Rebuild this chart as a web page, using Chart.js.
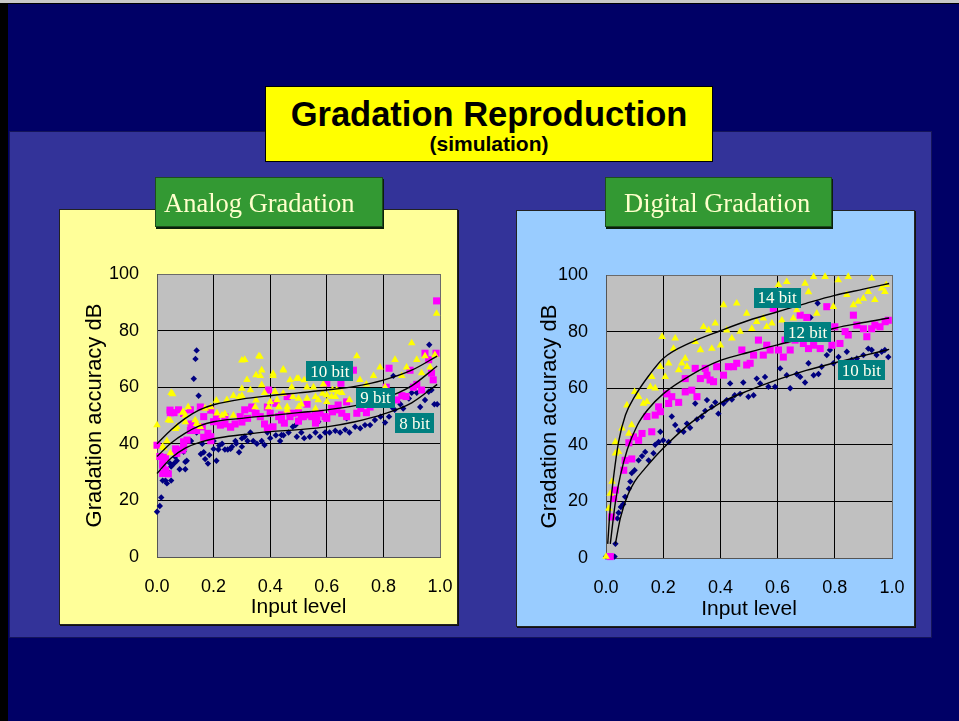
<!DOCTYPE html>
<html><head><meta charset="utf-8">
<script src="https://cdn.jsdelivr.net/npm/chart.js@4/dist/chart.umd.min.js"></script>
<style>
html,body{margin:0;padding:0;}
body{width:959px;height:721px;overflow:hidden;position:relative;background:#000;font-family:'Liberation Sans',Arial,sans-serif;}
.abs{position:absolute;box-sizing:border-box;}
#topline{left:0;top:0;width:959px;height:3px;background:#c8c8c8;}
#navy{left:8px;top:4px;width:951px;height:717px;background:#000066;}
#band{left:9px;top:131px;width:923px;height:507px;background:#333399;border:1px solid #15155a;}
#title{left:265px;top:86px;width:448px;height:76px;background:#ffff00;border:1px solid #000;text-align:center;z-index:3;}
#t1{left:0;width:100%;top:10px;font-size:34.5px;line-height:34.5px;font-weight:bold;color:#000;}
#t2{left:0;width:100%;top:46px;font-size:21px;line-height:21px;font-weight:bold;color:#000;}
.panel{border:1px solid #222;box-shadow:1px 1px 0 #111;}
#pA{left:59px;top:209px;width:399px;height:416px;background:#ffff99;}
#pD{left:516px;top:210px;width:399px;height:417px;background:#99ccff;}
.green{height:50px;background:#339933;border:1px solid #1d4d1d;box-shadow:1px 2px 0 #0a200a;z-index:3;
  font-family:'Liberation Serif','Times New Roman',serif;font-size:26.5px;line-height:26.5px;color:#ffffcc;white-space:nowrap;}
.green span{position:absolute;top:12px;}
#gA{left:155px;top:177px;width:228px;}
#gD{left:605px;top:177px;width:227px;}
canvas{position:absolute;z-index:2;}
#c1{left:59px;top:209px;}
#c2{left:516px;top:210px;}
</style></head>
<body>
<div class="abs" id="topline"></div>
<div class="abs" id="navy"></div>
<div class="abs" id="band"></div>
<div class="abs" id="title"><div class="abs" id="t1">Gradation Reproduction</div><div class="abs" id="t2">(simulation)</div></div>
<div class="abs panel" id="pA"></div>
<div class="abs panel" id="pD"></div>
<div class="abs green" id="gA"><span style="left:8px">Analog Gradation</span></div>
<div class="abs green" id="gD"><span style="left:18px">Digital Gradation</span></div>
<canvas id="c1" width="398" height="415"></canvas>
<canvas id="c2" width="398" height="416"></canvas>
<script>
// ---------- tick labels ----------
const xTickLabels = ['0.0','0.2','0.4','0.6','0.8','1.0'];
const yTickLabels = ['0','20','40','60','80','100'];

// ---------- Analog gradation: scatter points [input, dB] ----------
const analog8bit = [[0,16],[0.01,18],[0.015,21],[0.02,27],[0.03,27],[0.035,26],[0.05,27],[0.04,30],[0.05,32],[0.06,33],[0.07,34],[0.08,31],[0.10,31],[0.105,34],[0.12,41],[0.13,63],[0.136,70],[0.14,73],[0.147,57],[0.14,44],[0.16,40],[0.165,37],[0.18,33],[0.185,36],[0.2,41],[0.21,34],[0.217,38],[0.23,40],[0.24,38],[0.25,38],[0.265,39],[0.277,41],[0.29,37],[0.3,39],[0.31,42.5],[0.32,41],[0.33,44],[0.34,41],[0.353,40],[0.37,41],[0.38,39.6],[0.39,44],[0.4,42],[0.42,43],[0.435,41],[0.44,43.1],[0.447,43],[0.465,44],[0.48,46],[0.49,46.6],[0.494,42.5],[0.51,44],[0.52,42],[0.54,42.5],[0.56,44],[0.57,47.8],[0.576,42.5],[0.594,44],[0.61,44],[0.63,44.6],[0.647,44],[0.665,45],[0.67,49],[0.68,44],[0.7,46],[0.718,45.5],[0.735,46.6],[0.753,46.6],[0.77,48.4],[0.79,49.6],[0.806,47.5],[0.82,49.6],[0.83,53],[0.835,64],[0.84,52],[0.86,54],[0.87,52.5],[0.89,56],[0.9,58],[0.9,60],[0.918,58],[0.93,53],[0.947,55.5],[0.96,58.4],[0.962,75],[0.97,59],[0.98,54],[0.99,54],
  [0.046,33.1],[0.064,35.4],[0.094,37.2],[0.1,33.6],[0.117,41.2],[0.155,36.4],[0.17,34.6],[0.2,38.2],[0.22,39.4],[0.26,38.2],[0.28,40.1],[0.30,41.9]];
const analog9bit = [[0,39.5],[0.01,35.5],[0.02,29.5],[0.03,30.7],[0.02,33],[0.047,51],[0.06,51],[0.076,52],[0.07,36.6],[0.09,37.8],[0.094,40.7],[0.106,41.3],[0.118,52],[0.12,47],[0.153,53],[0.16,46],[0.165,49.6],[0.18,43.7],[0.19,42.5],[0.2,47.8],[0.21,49.6],[0.224,46.6],[0.24,47],[0.26,46],[0.276,47],[0.294,49.6],[0.31,52],[0.32,49],[0.335,53],[0.347,50.8],[0.365,49.6],[0.38,47],[0.394,59],[0.4,50.8],[0.41,46],[0.43,49.6],[0.44,48.4],[0.46,56.7],[0.47,49.6],[0.48,50.8],[0.5,51],[0.517,49.6],[0.53,54],[0.547,49.6],[0.565,48.4],[0.576,50.8],[0.594,49.6],[0.617,52.5],[0.635,52],[0.653,50.8],[0.67,49.6],[0.694,66],[0.706,50.8],[0.72,52.5],[0.74,51],[0.753,53],[0.8,56.7],[0.81,60],[0.82,66.7],[0.847,55.5],[0.865,57],[0.88,56.7],[0.894,66],[0.906,60],[0.918,61],[0.935,59],[0.947,72],[0.96,69.7],[0.97,65],[0.976,62.6],[0.986,72],[0.988,90.5],
  [0.335,52.5],[0.35,50.7],[0.39,53],[0.42,54.3],[0.44,50.2],[0.47,50.7],[0.51,49.6],[0.53,50.2],[0.56,50.7],[0.6,49],[0.62,51.3],[0.64,53.7],[0.67,54.8],[0.6,61.4],[0.65,61.4],[0.39,45.6],[0.45,47.3],[0.5,48],[0.56,47.3],
  [0.046,51.9],[0.094,50.7],[0.19,51.9],[0.24,49.5],[0.26,45.9],[0.3,47.7],[0.118,44.7],[0.14,44.7],[0.165,42.3],[0.19,41.1],[0.03,35.2],[0.066,38.2],[0.094,38.8],[0.02,32.4],[0.04,29.4]];
const analog10bit = [[0,46.6],[0.02,39],[0.035,41],[0.04,48.4],[0.05,58],[0.07,46],[0.09,51],[0.1,50],[0.11,53],[0.135,48.4],[0.153,46],[0.17,52.5],[0.19,53],[0.212,50.8],[0.23,50],[0.247,55.5],[0.27,57],[0.3,57],[0.31,69.7],[0.318,62.6],[0.33,59],[0.347,53],[0.36,71],[0.365,64],[0.38,58],[0.394,53],[0.41,64],[0.424,55.5],[0.447,66],[0.46,53],[0.476,60],[0.494,63],[0.51,54],[0.53,60],[0.553,60],[0.57,55.5],[0.588,61],[0.617,56.7],[0.635,59],[0.653,58],[0.68,55.5],[0.706,71],[0.717,62.6],[0.74,61],[0.765,64],[0.788,67],[0.806,60],[0.841,69.7],[0.865,64],[0.882,67],[0.9,75.6],[0.918,69.7],[0.935,65],[0.947,71],[0.965,67],[0.982,71.4],[0.988,86],
  [0.364,70.8],[0.37,66],[0.35,64.3],[0.41,64.8],[0.446,66.3],[0.47,62.5],[0.5,63],[0.52,62.5],[0.37,60.8],[0.417,58.4],[0.446,57.8],[0.48,56.6],[0.5,56],[0.53,56],[0.56,56.6],[0.585,57.8],[0.6,57.2],[0.62,59],[0.64,58.4],[0.35,55.4],[0.40,54.8],[0.43,53],[0.46,51.8],[0.5,53],[0.56,52.4],[0.6,54.8],[0.63,56.6],
  [0.055,57.6],[0.047,48.2],[0.065,45.3],[0.094,51.2],[0.1,47.7],[0.14,47.1],[0.21,55.3],[0.24,50.6],[0.27,50],[0.29,56.5],[0.3,59.5],[0.3,69.5],[0.047,36.7],[0.024,38.5]];
// fitted curves
const analogFit8 = [[0,29.5],[0.05,35],[0.1,38.5],[0.15,40.5],[0.2,41.8],[0.3,43.2],[0.4,44.3],[0.5,45],[0.6,46],[0.7,47.8],[0.8,50.5],[0.9,54.5],[0.99,61]];
const analogFit9 = [[0,35.5],[0.05,40.3],[0.1,43.8],[0.15,46.3],[0.2,47.8],[0.3,49],[0.4,50],[0.5,51],[0.6,52],[0.7,53.5],[0.8,56],[0.9,60.5],[0.99,67.5]];
const analogFit10 = [[0,40],[0.05,45],[0.1,49],[0.15,52],[0.2,53.8],[0.3,55.8],[0.4,57],[0.5,58],[0.6,59],[0.7,60.3],[0.8,62.5],[0.9,66],[0.99,71]];
const analogLabels = [['10 bit',0.611,65.7],['9 bit',0.772,56.2],['8 bit',0.91,47.3]];

// ---------- Digital gradation ----------
const digital10bit = [[0,0.5],[0.03,0.5],[0.033,5],[0.04,14],[0.044,16],[0.052,18],[0.06,19],[0.067,21.6],[0.08,24.5],[0.085,27],[0.09,30],[0.1,31],[0.114,34.5],[0.126,36],[0.137,37.5],[0.149,34.5],[0.166,37],[0.172,40],[0.184,41],[0.19,44.6],[0.2,41.6],[0.219,41],[0.23,50],[0.242,47],[0.254,45],[0.271,44.6],[0.283,47.5],[0.294,46],[0.312,54.6],[0.318,49],[0.335,50],[0.347,52],[0.353,55.8],[0.37,53.4],[0.382,55],[0.393,51],[0.411,54.6],[0.422,55.8],[0.434,61.7],[0.44,56],[0.45,57.5],[0.469,58],[0.48,62],[0.498,57],[0.516,57.5],[0.527,63.4],[0.539,61.7],[0.556,64],[0.568,60.5],[0.591,60.5],[0.609,67],[0.632,64.6],[0.644,60],[0.667,65],[0.679,64],[0.696,62],[0.708,68.8],[0.715,85],[0.726,64.6],[0.74,90],[0.743,65],[0.754,67.6],[0.772,71.7],[0.783,73.5],[0.795,68.8],[0.813,71],[0.842,72.9],[0.859,70],[0.877,70.5],[0.9,71.7],[0.917,74],[0.929,73.5],[0.946,71.7],[0.964,72.9],[0.975,73.5],[0.987,71]];
const digital12bit = [[0.015,0.5],[0.02,14.5],[0.027,21],[0.033,24],[0.062,31],[0.067,34.5],[0.09,35],[0.08,40.7],[0.096,42.8],[0.114,41.6],[0.126,44],[0.143,50],[0.16,44.6],[0.172,50.5],[0.184,53.4],[0.19,51.7],[0.213,58],[0.219,54.6],[0.23,57],[0.254,55],[0.277,58.7],[0.277,63.4],[0.3,59.3],[0.312,67],[0.318,57],[0.33,63.4],[0.347,67],[0.353,64.6],[0.364,62.9],[0.376,62.3],[0.387,67.6],[0.411,64.6],[0.428,67.6],[0.446,67.6],[0.457,68.8],[0.475,73.5],[0.492,68.2],[0.504,68.8],[0.516,71.7],[0.533,77],[0.55,71.7],[0.562,75.2],[0.574,73.5],[0.585,88.2],[0.603,73.5],[0.62,71],[0.626,77],[0.644,73.5],[0.661,77],[0.679,85.8],[0.69,75.8],[0.702,85],[0.708,74],[0.726,75.2],[0.749,74],[0.772,88.8],[0.79,75.2],[0.8,81.7],[0.818,75.8],[0.836,80],[0.847,78.8],[0.865,85.8],[0.877,82.3],[0.9,81],[0.912,78.2],[0.929,81],[0.94,82.3],[0.958,81.7],[0.976,83.5],[0.987,84]];
const digital14bit = [[0,0.5],[0.01,17.5],[0.015,22.8],[0.021,27],[0.033,37],[0.044,37.5],[0.033,41],[0.056,45.8],[0.073,54],[0.09,47],[0.08,44],[0.1,58.7],[0.114,57],[0.131,54.6],[0.143,55.2],[0.155,60.5],[0.16,64],[0.172,60],[0.19,67.6],[0.196,78.2],[0.207,64],[0.219,68.8],[0.236,74],[0.242,77.6],[0.254,66.4],[0.265,68.8],[0.277,70.5],[0.283,67.6],[0.312,76.4],[0.33,73.5],[0.341,81.7],[0.359,80.5],[0.37,74],[0.382,82.9],[0.4,75.2],[0.411,89.4],[0.422,80.5],[0.44,77.6],[0.457,90],[0.469,80],[0.492,86.4],[0.51,81],[0.527,83.5],[0.55,84.7],[0.562,81.7],[0.58,82.9],[0.603,96.5],[0.615,84],[0.632,97.6],[0.655,84.7],[0.667,87.6],[0.696,97],[0.708,94],[0.726,99.4],[0.737,86.4],[0.766,99.4],[0.795,88.8],[0.812,98.2],[0.842,93],[0.847,99.4],[0.865,89.4],[0.882,90.6],[0.9,91.7],[0.917,94.1],[0.929,98.8],[0.94,91.2],[0.964,95.3],[0.975,94.1],[0.98,96.5]];
const digitalFit10 = [[0.033,5],[0.05,14],[0.075,22],[0.1,27],[0.135,31.5],[0.2,38.8],[0.3,48],[0.4,54.8],[0.5,59.2],[0.6,63],[0.7,66.3],[0.8,69],[0.9,71.5],[0.99,73.7]];
const digitalFit12 = [[0.015,5],[0.033,19.8],[0.05,29],[0.075,38.5],[0.11,47],[0.145,52.3],[0.2,58],[0.3,64.8],[0.4,69.8],[0.5,72.7],[0.6,75.3],[0.7,78],[0.8,81.2],[0.9,83.2],[0.99,84.8]];
const digitalFit14 = [[0.006,5],[0.015,18],[0.027,29],[0.044,41],[0.068,50.5],[0.1,57],[0.15,64.5],[0.2,70.5],[0.3,76.3],[0.4,80.3],[0.5,84],[0.6,87],[0.7,90],[0.8,92.8],[0.9,95],[0.99,97]];
const digitalLabels = [['14 bit',0.598,92],['12 bit',0.705,79.7],['10 bit',0.893,66.4]];

// ---------- helpers ----------
const pts = a => a.map(p => ({x:p[0], y:p[1]}));
Chart.defaults.font.family = "'Liberation Sans', Arial, sans-serif";
Chart.defaults.color = '#000';

const plotBg = {
  id:'plotBg',
  beforeDraw(chart){
    const a = chart.chartArea, c = chart.ctx;
    c.save(); c.fillStyle = '#c0c0c0'; c.fillRect(a.left, a.top, a.right-a.left, a.bottom-a.top); c.restore();
  }
};
const bitLabels = {
  id:'bitLabels',
  afterDatasetsDraw(chart, args, opts){
    const c = chart.ctx, xs = chart.scales.x, ys = chart.scales.y;
    c.save();
    c.font = "17px 'Liberation Serif', 'Times New Roman', serif";
    c.textAlign = 'center'; c.textBaseline = 'middle';
    (opts.items || []).forEach(([t, x, y]) => {
      const px = xs.getPixelForValue(x), py = ys.getPixelForValue(y);
      const w = Math.round(c.measureText(t).width + 8), h = 20;
      c.fillStyle = '#008080';
      c.fillRect(Math.round(px - w/2), Math.round(py - h/2), w, h);
      c.fillStyle = '#ffffee';
      c.fillText(t, px, py + 1);
    });
    c.restore();
  }
};

const edgeGrid = ctx => (ctx.index === 0 || ctx.index === 5) ? '#6a6a6a' : '#000';

function fitLine(data){
  return {type:'line', data:pts(data), borderColor:'#000', borderWidth:1.4, pointRadius:0,
          cubicInterpolationMode:'monotone', fill:false, clip:false};
}
function scatter(data, color, style, r){
  return {type:'scatter', data:pts(data), backgroundColor:color, borderColor:color, borderWidth:0,
          pointStyle:style, pointRadius:r, clip:false};
}

function makeChart(id, sets, fits, labels, geo){
  return new Chart(document.getElementById(id), {
    type:'scatter',
    data:{datasets:[
      fitLine(fits[0]), fitLine(fits[1]), fitLine(fits[2]),
      scatter(sets[2], '#ffff00', 'triangle', 4.4),
      scatter(sets[1], '#ff00ff', 'rect', 5),
      scatter(sets[0], '#000080', 'rectRot', 3.2)
    ]},
    options:{
      responsive:false, animation:false, devicePixelRatio:1, events:[],
      layout:{autoPadding:false, padding:{left:0, top:geo.top, right:geo.right, bottom:0}},
      plugins:{legend:{display:false}, tooltip:{enabled:false}, bitLabels:{items:labels}},
      scales:{
        x:{type:'linear', min:0, max:1,
           ticks:{stepSize:0.2, padding:19, font:{size:18}, color:'#000', maxRotation:0,
                  callback:(v,i)=>xTickLabels[i]},
           grid:{color:edgeGrid, drawTicks:false, lineWidth:1},
           border:{display:true, color:'#555', width:1},
           title:{display:true, text:'Input level', font:{size:21}, color:'#000', padding:{top:0,bottom:4}},
           afterFit:s=>{s.height = geo.xh; s.paddingLeft = 0; s.paddingRight = 0;}},
        y:{type:'linear', min:0, max:100,
           ticks:{stepSize:20, padding:18, font:{size:18}, color:'#000',
                  callback:(v,i)=>yTickLabels[i]},
           grid:{color:edgeGrid, drawTicks:false, lineWidth:1},
           border:{display:true, color:'#555', width:1},
           title:{display:true, text:'Gradation accuracy dB', font:{size:22}, color:'#000', padding:{top:geo.tp,bottom:0}},
           afterFit:s=>{s.width = geo.yw; s.paddingTop = 0; s.paddingBottom = 0;}}
      }
    },
    plugins:[plotBg, bitLabels]
  });
}

makeChart('c1', [analog8bit, analog9bit, analog10bit], [analogFit8, analogFit9, analogFit10], analogLabels,
          {top:65, right:17, xh:67, yw:98, tp:23});
makeChart('c2', [digital10bit, digital12bit, digital14bit], [digitalFit10, digitalFit12, digitalFit14], digitalLabels,
          {top:65, right:22, xh:68, yw:90, tp:21});
</script>
</body></html>
